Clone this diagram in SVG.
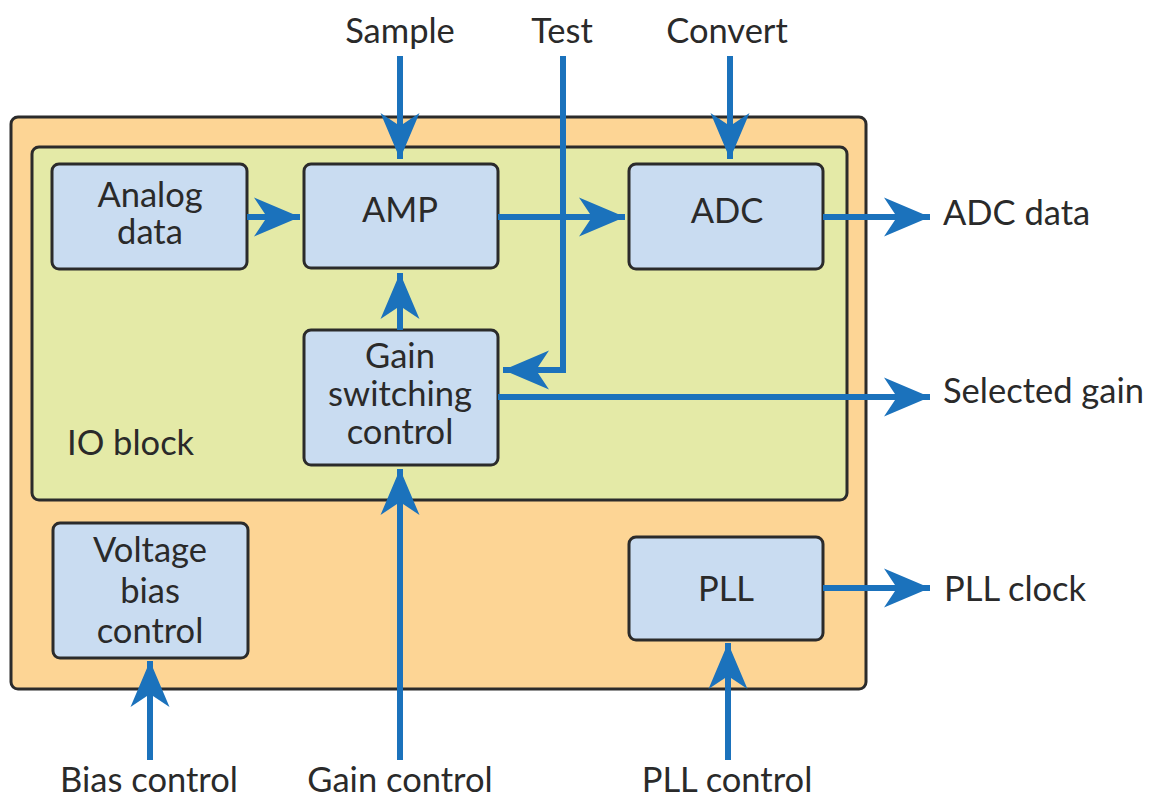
<svg xmlns="http://www.w3.org/2000/svg" width="1150" height="798" viewBox="0 0 1150 798">
  <defs>
    <style>
      .frame { fill: #fdd595; stroke: #2b2b2b; stroke-width: 3; }
      .io { fill: #e4eaa7; stroke: #2b2b2b; stroke-width: 3; }
      .box { fill: #c9dcf1; stroke: #2b2b2b; stroke-width: 3; }
      .arrow { fill: none; stroke: #1b72bc; stroke-width: 6; marker-end: url(#head); }
      text { font-family: "Lato", "Liberation Sans", sans-serif; font-size: 34.5px; fill: #2a2a2a; }
      .c { text-anchor: middle; }
    </style>
    <marker id="head" markerUnits="userSpaceOnUse" viewBox="-48 -20 50 40" refX="0" refY="0" markerWidth="50" markerHeight="40" orient="auto" overflow="visible">
      <path d="M0,0 L-46,-19.5 L-33,0 L-46,19.5 Z" fill="#1b72bc"/>
    </marker>
  </defs>

  <!-- outer chip frame -->
  <rect class="frame" x="11" y="117" width="855" height="572" rx="7"/>
  <!-- IO block region -->
  <g id="io-block">
    <rect class="io" x="32" y="147" width="815" height="353" rx="7"/>
    <text x="67" y="455">IO block</text>
  </g>

  <g id="analog-data">
    <rect class="box" x="52" y="164" width="195" height="105" rx="7"/>
    <text class="c" x="150" y="207">Analog</text>
    <text class="c" x="150" y="244">data</text>
  </g>
  <g id="amp">
    <rect class="box" x="304" y="164" width="194" height="104" rx="7"/>
    <text class="c" x="400" y="222">AMP</text>
  </g>
  <g id="adc">
    <rect class="box" x="629" y="164" width="194" height="105" rx="7"/>
    <text class="c" x="727" y="223">ADC</text>
  </g>
  <g id="gain-switching">
    <rect class="box" x="304" y="330" width="194" height="135" rx="7"/>
    <text class="c" x="400" y="368">Gain</text>
    <text class="c" x="400" y="406">switching</text>
    <text class="c" x="400" y="444">control</text>
  </g>
  <g id="voltage-bias">
    <rect class="box" x="53" y="523" width="195" height="135" rx="7"/>
    <text class="c" x="150" y="562">Voltage</text>
    <text class="c" x="150" y="603">bias</text>
    <text class="c" x="150" y="643">control</text>
  </g>
  <g id="pll">
    <rect class="box" x="629" y="537" width="194" height="103" rx="7"/>
    <text class="c" x="726" y="601">PLL</text>
  </g>

  <!-- external signal labels -->
  <g id="labels">
    <text class="c" x="400" y="43">Sample</text>
    <text class="c" x="562" y="43">Test</text>
    <text class="c" x="727" y="43">Convert</text>
    <text x="943" y="225">ADC data</text>
    <text x="943" y="403">Selected gain</text>
    <text x="944" y="601">PLL clock</text>
    <text class="c" x="149" y="792">Bias control</text>
    <text class="c" x="400" y="792">Gain control</text>
    <text class="c" x="727" y="792">PLL control</text>
  </g>

  <!-- connectors -->
  <g id="connectors">
    <path class="arrow" d="M400,56 V159"/>
    <path class="arrow" d="M730,56 V159"/>
    <path class="arrow" d="M563,56 V370 H503"/>
    <path class="arrow" d="M247,217 H300"/>
    <path class="arrow" d="M498,217 H625"/>
    <path class="arrow" d="M823,217 H930"/>
    <path class="arrow" d="M498,397 H930"/>
    <path class="arrow" d="M400,330 V273"/>
    <path class="arrow" d="M400,760 V469"/>
    <path class="arrow" d="M150,760 V661"/>
    <path class="arrow" d="M728,760 V643"/>
    <path class="arrow" d="M823,588 H930"/>
  </g>
</svg>
